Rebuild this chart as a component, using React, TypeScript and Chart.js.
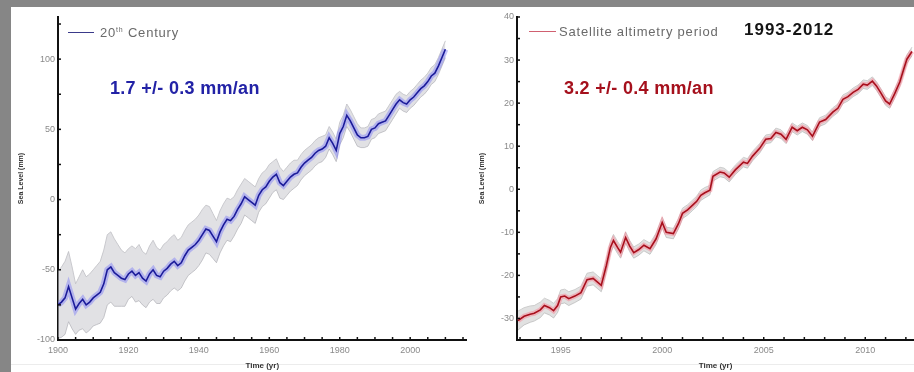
import React, { useEffect, useRef } from 'react';
import { Chart, registerables } from 'chart.js';

Chart.register(...registerables);

// ---------- Left panel: 20th century tide-gauge reconstruction ----------
const leftYears = [
  1900, 1901, 1902, 1903, 1904, 1905, 1906, 1907, 1908, 1909,
  1910, 1911, 1912, 1913, 1914, 1915, 1916, 1917, 1918, 1919,
  1920, 1921, 1922, 1923, 1924, 1925, 1926, 1927, 1928, 1929,
  1930, 1931, 1932, 1933, 1934, 1935, 1936, 1937, 1938, 1939,
  1940, 1941, 1942, 1943, 1944, 1945, 1946, 1947, 1948, 1949,
  1950, 1951, 1952, 1953, 1954, 1955, 1956, 1957, 1958, 1959,
  1960, 1961, 1962, 1963, 1964, 1965, 1966, 1967, 1968, 1969,
  1970, 1971, 1972, 1973, 1974, 1975, 1976, 1977, 1978, 1979,
  1980, 1981, 1982, 1983, 1984, 1985, 1986, 1987, 1988, 1989,
  1990, 1991, 1992, 1993, 1994, 1995, 1996, 1997, 1998, 1999,
  2000, 2001, 2002, 2003, 2004, 2005, 2006, 2007, 2008, 2009, 2010,
];
const leftLevel = [
  -75, -73, -70, -62, -70, -78, -74, -71, -75, -73,
  -70, -68, -66, -60, -50, -48, -52, -54, -56, -57,
  -53, -51, -54, -52, -56, -58, -53, -50, -54, -55,
  -51, -49, -46, -44, -47, -45, -40, -36, -34, -32,
  -29, -25, -21, -22, -26, -30, -23, -18, -14, -15,
  -12, -7, -3, 2, 0, -2, -4, 3, 7, 9,
  13, 16, 18, 12, 10, 13, 16, 18, 19, 23,
  26, 28, 30, 33, 35, 36, 38, 44, 40, 35,
  47, 52, 60, 56, 51, 46, 44, 44, 45, 50,
  51, 54, 55, 56, 60, 64, 68, 71, 69, 68,
  71, 73, 76, 79, 81, 84, 88, 90, 95, 101, 107,
];
const leftUnc = [
  24, 25, 26, 25, 22, 18, 19, 21, 20, 20,
  20, 21, 22, 24, 25, 25, 24, 22, 20, 19,
  18, 18, 19, 20, 19, 19, 20, 21, 20, 19,
  19, 19, 19, 19, 18, 18, 18, 18, 18, 18,
  18, 18, 17, 17, 16, 15, 15, 15, 15, 15,
  14, 14, 14, 13, 13, 13, 13, 12, 12, 12,
  12, 11, 11, 11, 10, 10, 10, 10, 9, 9,
  9, 9, 9, 9, 9, 9, 8, 8, 8, 8,
  8, 8, 8, 8, 8, 8, 7, 7, 7, 7,
  7, 7, 7, 7, 7, 7, 7, 6, 6, 6,
  6, 6, 6, 6, 6, 6, 6, 6, 6, 6, 6,
];
const leftXLabels = [1900, 1920, 1940, 1960, 1980, 2000];
const leftYLabels = [-100, -50, 0, 50, 100];

// ---------- Right panel: satellite altimetry 1993-2012 ----------
const rightYears = [
  1992.9, 1993.2, 1993.5, 1993.7, 1994.0, 1994.2, 1994.45, 1994.65, 1994.85, 1995.0,
  1995.2, 1995.4, 1995.7, 1996.0, 1996.3, 1996.6, 1996.8, 1997.0, 1997.25, 1997.45,
  1997.6, 1997.8, 1997.95, 1998.2, 1998.4, 1998.6, 1998.85, 1999.1, 1999.4, 1999.7,
  2000.0, 2000.2, 2000.55, 2000.8, 2001.0, 2001.25, 2001.5, 2001.7, 2001.9, 2002.1,
  2002.35, 2002.5, 2002.85, 2003.05, 2003.3, 2003.6, 2004.0, 2004.2, 2004.45, 2004.8,
  2005.1, 2005.35, 2005.6, 2005.85, 2006.1, 2006.4, 2006.65, 2006.9, 2007.15, 2007.4,
  2007.75, 2008.05, 2008.4, 2008.65, 2008.9, 2009.15, 2009.4, 2009.65, 2009.9, 2010.1,
  2010.35, 2010.55, 2010.75, 2011.0, 2011.2, 2011.45, 2011.7, 2011.9, 2012.05, 2012.3,
];
const rightLevel = [
  -30.5, -29.5, -29, -28.8, -28, -27, -27.5, -28.2, -27, -25,
  -24.8, -25.4, -24.8, -24, -21, -20.7, -21.5, -22.3, -17.7, -13.5,
  -11.9, -13.5, -14.6, -11.2, -13.2, -14.7, -14, -13, -13.8, -11.5,
  -7.7, -10, -10.3, -8, -5.6, -4.8, -3.7, -2.8, -1.4, -0.8,
  -0.2, 3, 4, 3.8, 2.8, 4.5, 6.3, 6, 7.7, 9.5,
  11.6, 11.8, 13.2, 12.8, 11.6, 14.4, 13.6, 14.4, 13.8, 12.3,
  15.6, 16.2, 17.9, 18.8, 20.9, 21.5, 22.5, 23.2, 24.4, 24.2,
  25.1, 24, 22.5, 20.5, 19.8, 22.2, 24.9, 28, 30.2, 32,
];
const rightUnc = [
  2.2, 2.0, 1.9, 1.8, 1.8, 1.7, 1.7, 1.7, 1.6, 1.6,
  1.6, 1.6, 1.5, 1.5, 1.5, 1.5, 1.5, 1.5, 1.4, 1.4,
  1.4, 1.4, 1.4, 1.3, 1.3, 1.3, 1.3, 1.3, 1.3, 1.3,
  1.2, 1.2, 1.2, 1.2, 1.2, 1.2, 1.2, 1.2, 1.2, 1.2,
  1.1, 1.1, 1.1, 1.1, 1.1, 1.1, 1.1, 1.1, 1.1, 1.1,
  1.0, 1.0, 1.0, 1.0, 1.0, 1.0, 1.0, 1.0, 1.0, 1.0,
  1.0, 1.0, 1.0, 1.0, 1.0, 1.0, 1.0, 1.0, 1.0, 1.0,
  1.0, 1.0, 1.0, 1.0, 1.0, 1.0, 1.0, 1.0, 1.0, 1.0,
];
const rightXLabels = [1995, 2000, 2005, 2010];
const rightYLabels = [-30, -20, -10, 0, 10, 20, 30, 40];

const FONT = '"Liberation Sans", Arial, sans-serif';

const inwardTicks = {
  id: 'inwardTicks',
  afterDraw(chart: any) {
    const { ctx, chartArea } = chart;
    const xs = chart.scales.x;
    const ys = chart.scales.y;
    ctx.save();
    ctx.strokeStyle = '#111';
    ctx.lineWidth = 1.5;
    xs.ticks.forEach((t: any) => {
      const px = xs.getPixelForValue(t.value);
      ctx.beginPath();
      ctx.moveTo(px, chartArea.bottom + 1);
      ctx.lineTo(px, chartArea.bottom - 3);
      ctx.stroke();
    });
    ys.ticks.forEach((t: any) => {
      const py = ys.getPixelForValue(t.value);
      ctx.beginPath();
      ctx.moveTo(chartArea.left - 1, py);
      ctx.lineTo(chartArea.left + 3, py);
      ctx.stroke();
    });
    ctx.restore();
  },
};

type PanelOpts = {
  years: number[];
  level: number[];
  unc: number[];
  xMin: number;
  xMax: number;
  xStep: number;
  yMin: number;
  yMax: number;
  yStep: number;
  xLabels: number[];
  yLabels: number[];
  lineColor: string;
  glowColor: string;
  glowWidth: number;
  bandFill: string;
  bandBorder: string;
  yScaleWidth: number;
  yTitlePad: number;
};

function buildConfig(o: PanelOpts): any {
  const main = o.years.map((x, i) => ({ x, y: o.level[i] }));
  const upper = o.years.map((x, i) => ({ x, y: o.level[i] + o.unc[i] }));
  const lower = o.years.map((x, i) => ({ x, y: o.level[i] - o.unc[i] }));
  return {
    type: 'line',
    data: {
      datasets: [
        { data: upper, order: 4, borderColor: o.bandBorder, borderWidth: 0.8, pointRadius: 0, fill: false, tension: 0 },
        { data: lower, order: 3, borderColor: o.bandBorder, borderWidth: 0.8, pointRadius: 0, fill: { target: 0 }, backgroundColor: o.bandFill, tension: 0 },
        { data: main, order: 2, borderColor: o.glowColor, borderWidth: o.glowWidth, pointRadius: 0, fill: false, tension: 0 },
        { data: main, order: 1, borderColor: o.lineColor, borderWidth: 1.6, pointRadius: 0, fill: false, tension: 0 },
      ],
    },
    options: {
      animation: false,
      responsive: false,
      maintainAspectRatio: false,
      layout: { padding: { top: 10, right: 0, left: 0, bottom: 0 } },
      plugins: { legend: { display: false }, tooltip: { enabled: false } },
      scales: {
        x: {
          type: 'linear',
          min: o.xMin,
          max: o.xMax,
          grid: { display: true, drawOnChartArea: false, drawTicks: false },
          border: { display: true, color: '#111', width: 2 },
          ticks: {
            stepSize: o.xStep,
            includeBounds: false,
            autoSkip: false,
            maxRotation: 0,
            padding: 5,
            color: '#8a8a8a',
            font: { family: FONT, size: 9 },
            callback: (v: any) => (o.xLabels.includes(Math.round(v)) && Math.abs(v - Math.round(v)) < 1e-6 ? String(Math.round(v)) : ''),
          },
          title: {
            display: true,
            text: 'Time (yr)',
            color: '#333',
            font: { family: FONT, size: 8, weight: 'bold' },
            padding: { top: 0, bottom: 1 },
          },
          afterFit: (s: any) => {
            s.height = 32;
          },
        },
        y: {
          type: 'linear',
          min: o.yMin,
          max: o.yMax,
          grid: { display: true, drawOnChartArea: false, drawTicks: false },
          border: { display: true, color: '#111', width: 2 },
          ticks: {
            stepSize: o.yStep,
            includeBounds: false,
            autoSkip: false,
            padding: 3,
            color: '#8a8a8a',
            font: { family: FONT, size: 9 },
            callback: (v: any) => (o.yLabels.includes(v) ? String(v) : ''),
          },
          title: {
            display: true,
            text: 'Sea Level (mm)',
            color: '#333',
            font: { family: FONT, size: 7, weight: 'bold' },
            padding: { top: o.yTitlePad, bottom: 0 },
          },
          afterFit: (s: any) => {
            s.width = o.yScaleWidth;
          },
        },
      },
    },
    plugins: [inwardTicks],
  };
}

function Panel({ cfg, left, width }: { cfg: PanelOpts; left: number; width: number }) {
  const ref = useRef<HTMLCanvasElement | null>(null);
  useEffect(() => {
    if (!ref.current) return;
    const chart = new Chart(ref.current, buildConfig(cfg));
    return () => chart.destroy();
  }, []);
  return (
    <canvas
      ref={ref}
      width={width}
      height={365}
      style={{ position: 'absolute', left, top: 7, width, height: 365 }}
    />
  );
}

const abs = (s: React.CSSProperties): React.CSSProperties => ({
  position: 'absolute',
  fontFamily: FONT,
  whiteSpace: 'nowrap',
  lineHeight: 1,
  pointerEvents: 'none',
  ...s,
});

export default function App() {
  useEffect(() => {
    document.body.style.margin = '0';
  }, []);

  const leftCfg: PanelOpts = {
    years: leftYears,
    level: leftLevel,
    unc: leftUnc,
    xMin: 1900,
    xMax: 2016,
    xStep: 5,
    yMin: -100,
    yMax: 130,
    yStep: 25,
    xLabels: leftXLabels,
    yLabels: leftYLabels,
    lineColor: '#1c1c9a',
    glowColor: 'rgba(110,110,250,0.4)',
    glowWidth: 6,
    bandFill: 'rgba(200,200,206,0.55)',
    bandBorder: 'rgba(170,170,176,0.8)',
    yScaleWidth: 47,
    yTitlePad: 6,
  };
  const rightCfg: PanelOpts = {
    years: rightYears,
    level: rightLevel,
    unc: rightUnc,
    xMin: 1992.85,
    xMax: 2012.4,
    xStep: 1,
    yMin: -35,
    yMax: 40,
    yStep: 5,
    xLabels: rightXLabels,
    yLabels: rightYLabels,
    lineColor: '#a80f1c',
    glowColor: 'rgba(255,110,130,0.4)',
    glowWidth: 5,
    bandFill: 'rgba(205,205,205,0.6)',
    bandBorder: 'rgba(175,175,175,0.8)',
    yScaleWidth: 49,
    yTitlePad: 10,
  };

  return (
    <div style={{ position: 'fixed', left: 0, top: 0, width: 914, height: 372, background: '#868686', overflow: 'hidden' }}>
      <div style={{ position: 'absolute', left: 11, top: 7, width: 903, height: 365, background: '#ffffff' }} />
      <div style={{ position: 'absolute', left: 11, top: 364, width: 903, height: 1, background: '#ececec' }} />
      <Panel cfg={leftCfg} left={11} width={457} />
      <Panel cfg={rightCfg} left={468} width={446} />

      {/* legend left */}
      <div style={abs({ left: 68, top: 32, width: 26, height: 0, borderTop: '1.5px solid #3a3a8a' })} />
      <div style={abs({ left: 100, top: 26, fontSize: 13, color: '#6a6a6a', letterSpacing: '0.8px' })}>
        20<sup style={{ fontSize: 7, verticalAlign: 'top', lineHeight: 1 }}>th</sup> Century
      </div>
      <div style={abs({ left: 110, top: 79, fontSize: 18, fontWeight: 'bold', color: '#2222a6', letterSpacing: '0.3px' })}>
        1.7 +/- 0.3 mm/an
      </div>

      {/* legend right */}
      <div style={abs({ left: 529, top: 31, width: 27, height: 0, borderTop: '1.5px solid #d06070' })} />
      <div style={abs({ left: 559, top: 25, fontSize: 13, color: '#6a6a6a', letterSpacing: '0.8px' })}>
        Satellite altimetry period
      </div>
      <div style={abs({ left: 744, top: 21, fontSize: 17, fontWeight: 'bold', color: '#151515', letterSpacing: '1px' })}>
        1993-2012
      </div>
      <div style={abs({ left: 564, top: 79, fontSize: 18, fontWeight: 'bold', color: '#a5101c', letterSpacing: '0.3px' })}>
        3.2 +/- 0.4 mm/an
      </div>
    </div>
  );
}
